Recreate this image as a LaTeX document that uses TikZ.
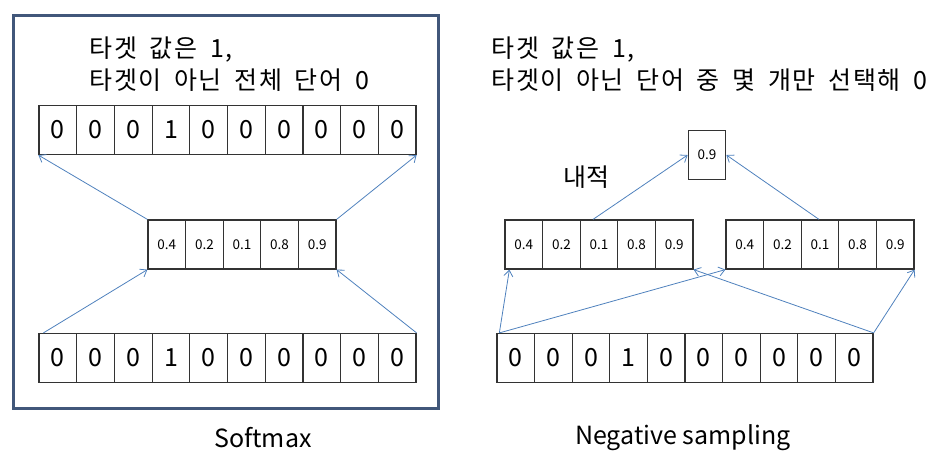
\documentclass[tikz,border=0pt]{standalone}
\usepackage{fontspec}
\setmainfont{Noto Sans CJK KR}
\newfontfamily\widefont[LetterSpace=6,WordSpace=1.8]{Noto Sans CJK KR}
\usetikzlibrary{arrows.meta}
\definecolor{framecol}{HTML}{41577A}
\definecolor{arrcol}{HTML}{4F81BD}
\tikzset{
    bigcell/.style={draw=black!80, line width=1.2pt, minimum width=37.7pt, minimum height=49pt, inner sep=0pt, font=\fontsize{25}{25}\selectfont},
    smallcell/.style={draw=black!80, line width=1.2pt, minimum width=37.6pt, minimum height=49pt, inner sep=0pt, font=\fontsize{13.5}{13.5}\selectfont},
    arr/.style={arrcol, line width=0.8pt, -{Straight Barb[length=6pt,width=9pt]}},
    title/.style={align=left, anchor=west, font=\widefont\fontsize{25}{32}\selectfont},
    caption/.style={font=\fontsize{25}{25}\selectfont}
}

\begin{document}
\begin{tikzpicture}[x=1pt,y=-1pt]
    \useasboundingbox (0,0) rectangle (943,459);

    % Softmax
    \draw[framecol, line width=3pt] (13,15) rectangle (438,408);
    \node[title] (t1) at (86,64) {타겟 값은 1,\\타겟이 아닌 전체 단어 0};
    \foreach \v [count=\i] in {0,0,0,1,0,0,0,0,0,0}
        \node[bigcell] (st\i) at ({39+(\i-0.5)*37.7},130) {\v};
    \foreach \v [count=\i] in {0.4,0.2,0.1,0.8,0.9}
        \node[smallcell] (sm\i) at ({148+(\i-0.5)*37.6},244.5) {\v};
    \foreach \v [count=\i] in {0,0,0,1,0,0,0,0,0,0}
        \node[bigcell] (sb\i) at ({39+(\i-0.5)*37.7},358) {\v};

    \draw[arr] (sm1.north west) -- (st1.south west);
    \draw[arr] (sm5.north east) -- (st10.south east);
    \draw[arr] ([xshift=5pt]sb1.north west) -- (sm1.south west);
    \draw[arr] (sb10.north east) -- (sm5.south east);
    \node[caption] (c1) at (263,438) {Softmax};

    % Negative sampling
    \node[title] (t2) at (488,64) {타겟 값은 1,\\타겟이 아닌 단어 중 몇 개만 선택해 0};
    \node[smallcell] (dot) at (707,155) {0.9};
    \node[font=\fontsize{25}{25}\selectfont] (ip) at (586,177) {내적};
    \foreach \v [count=\i] in {0.4,0.2,0.1,0.8,0.9}
        \node[smallcell] (nl\i) at ({505+(\i-0.5)*37.6},244.5) {\v};
    \foreach \v [count=\i] in {0.4,0.2,0.1,0.8,0.9}
        \node[smallcell] (nr\i) at ({726+(\i-0.5)*37.6},244.5) {\v};
    \foreach \v [count=\i] in {0,0,0,1,0,0,0,0,0,0}
        \node[bigcell] (nb\i) at ({497+(\i-0.5)*37.6},358) {\v};

    \draw[arr] ([xshift=-6pt]nl3.north) -- (dot.west);
    \draw[arr] ([xshift=-1pt]nr3.north) -- (dot.east);
    \draw[arr] ([xshift=3pt]nb1.north west) -- ([xshift=5pt]nl1.south west);
    \draw[arr] ([xshift=3pt]nb1.north west) -- (nr1.south west);
    \draw[arr] (nb10.north east) -- (nl5.south east);
    \draw[arr] (nb10.north east) -- (nr5.south east);
    \node[caption] (c2) at (683,438) {Negative sampling};
\end{tikzpicture}
\end{document}
